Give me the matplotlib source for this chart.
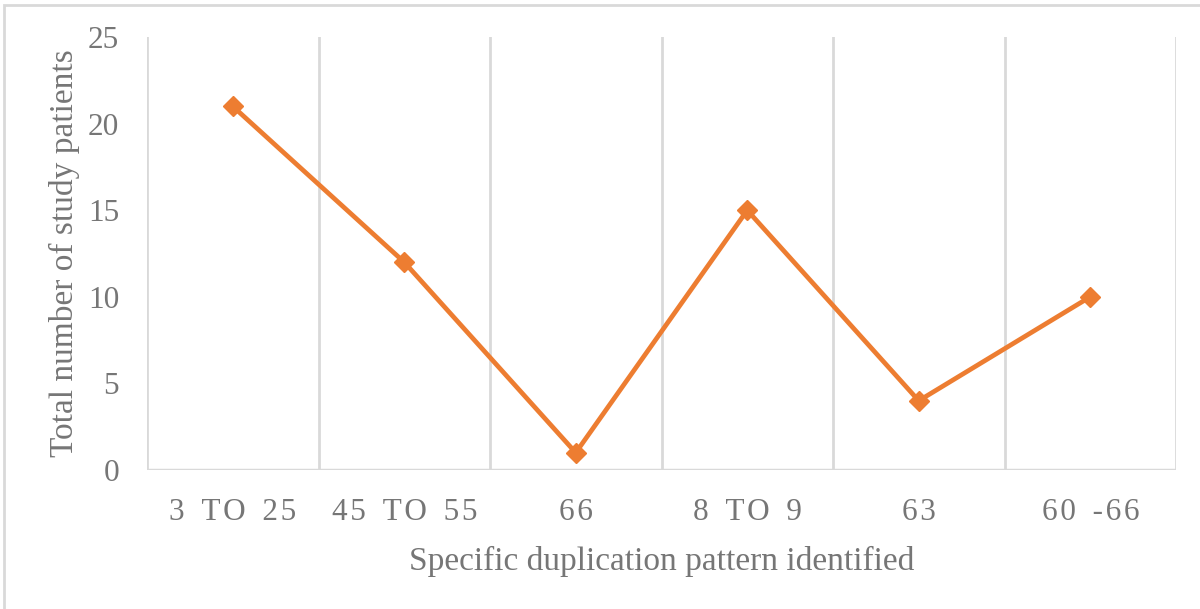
import matplotlib.pyplot as plt
from matplotlib.patches import Rectangle

# ---- Data ----
categories = ['3 TO 25', '45 TO 55', '66', '8 TO 9', '63', '60 -66']
patients = [21, 12, 1, 15, 4, 10]
y_ticks = [0, 5, 10, 15, 20, 25]

text_color = '#767676'
grid_color = '#d9d9d9'
line_color = '#ED7D31'

plt.rcParams['font.family'] = ['Liberation Serif', 'DejaVu Serif']


def spaced(s):
    # mimic the loose character spacing of the original labels
    out = []
    for ch in s:
        out.append(ch)
        out.append('\u200a' if ch != ' ' else '\u2009')
    return ''.join(out).rstrip('\u200a')


fig = plt.figure(figsize=(12, 6.09), dpi=100)
ax = fig.add_axes([0.1225, 0.2282, 0.8575, 0.711])

# outer chart frame (only left and top edges visible)
fig.patches.append(Rectangle((4 / 1200, -0.05), 1.1, 1 - 5 / 609 + 0.05,
                             transform=fig.transFigure, fill=False,
                             edgecolor=grid_color, linewidth=2))

x = list(range(len(categories)))
ax.plot(x, patients, color=line_color, linewidth=3.4, marker='D',
        markersize=10, zorder=3)

ax.set_xlim(-0.5, len(categories) - 0.5)
ax.set_ylim(0, 25)
ax.set_yticks(y_ticks)
ax.set_xticks(x)
ax.set_xticklabels([spaced(c) for c in categories])

# vertical gridlines at category boundaries
for b in range(len(categories) + 1):
    ax.axvline(b - 0.5, color=grid_color, linewidth=2, zorder=1)

for s in ax.spines.values():
    s.set_visible(False)
ax.axhline(0, color=grid_color, linewidth=2.5, zorder=1)

ax.tick_params(axis='both', length=0, labelsize=22.5, labelcolor=text_color)
ax.tick_params(axis='x', pad=20)
ax.tick_params(axis='y', pad=20)

ax.set_xlabel('Specific duplication pattern identified', fontsize=24,
              color=text_color, labelpad=14)
ax.set_ylabel('Total number of study patients', fontsize=24,
              color=text_color, labelpad=6)

fig.savefig('out.png', dpi=100)
